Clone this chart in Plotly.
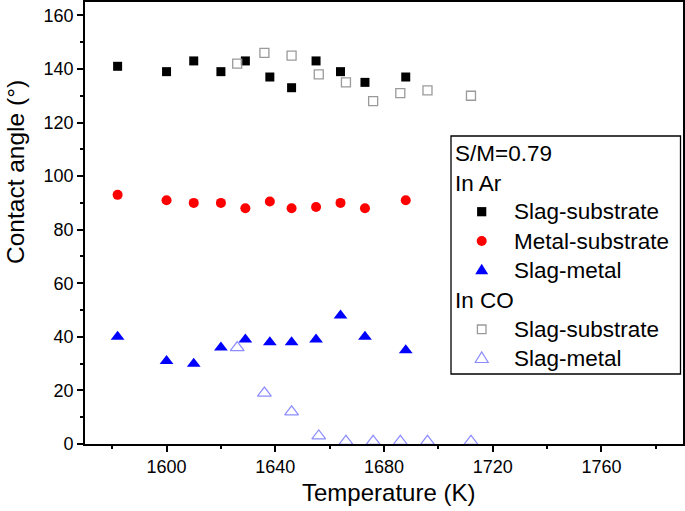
import plotly.graph_objects as go

# ---- data ----
ar_temp = [1582, 1600, 1610, 1620, 1629, 1638, 1646, 1655, 1664, 1673, 1688]
ar_slag_substrate = [141, 139, 143, 139, 143, 137, 133, 143, 139, 135, 137]
ar_metal_substrate = [93, 91, 90, 90, 88, 90.5, 88, 88.5, 90, 88, 91]
ar_slag_metal = [40, 31, 30, 36, 39, 38, 38, 39, 48, 40, 35]

co_temp = [1626, 1636, 1646, 1656, 1666, 1676, 1686, 1696, 1712]
co_slag_substrate = [142, 146, 145, 138, 135, 128, 131, 132, 130]
co_slag_metal = [36, 19, 12, 3, 1, 1, 1, 1, 1]

x_title = "Temperature (K)"
y_title = "Contact angle (°)"
legend_header = "S/M=0.79"
group_ar = "In Ar"
group_co = "In CO"
names_ar = ["Slag-substrate", "Metal-substrate", "Slag-metal"]
names_co = ["Slag-substrate", "Slag-metal"]

FONT = "Liberation Sans, Arial, sans-serif"
W, H = 685, 511
ML, MR, MT, MB = 85, 2, 2, 67
PW, PH = W - ML - MR, H - MT - MB

BLACK = "black"
RED = "#ff0000"
BLUE = "#0000ff"
GRAY = "#9a9a9a"
LBLUE = "#8c8cff"


def px(xpix):
    return (xpix - ML) / PW


def py(ypix):
    return (H - MB - ypix) / PH


fig = go.Figure()
fig.add_trace(go.Scatter(x=ar_temp, y=ar_slag_substrate, mode="markers", name=names_ar[0],
                         marker=dict(symbol="square", size=9, color=BLACK)))
fig.add_trace(go.Scatter(x=ar_temp, y=ar_metal_substrate, mode="markers", name=names_ar[1],
                         marker=dict(symbol="circle", size=10, color=RED)))
fig.add_trace(go.Scatter(x=ar_temp, y=ar_slag_metal, mode="markers", name=names_ar[2],
                         marker=dict(symbol="triangle-up", size=12, color=BLUE)))
fig.add_trace(go.Scatter(x=co_temp, y=co_slag_substrate, mode="markers", name=names_co[0],
                         marker=dict(symbol="square-open", size=9, color=GRAY,
                                     line=dict(width=1.3))))
fig.add_trace(go.Scatter(x=co_temp, y=co_slag_metal, mode="markers", name=names_co[1],
                         marker=dict(symbol="triangle-up-open", size=12, color=LBLUE,
                                     line=dict(width=1.2))))

shapes = []
annotations = []

# legend box
shapes.append(dict(type="rect", xref="paper", yref="paper",
                   x0=px(451), x1=px(680.5), y0=py(374), y1=py(136),
                   line=dict(color="black", width=1.3), fillcolor="white", layer="above"))

LFS = 22.5
def legend_text(text, xpix, ypix):
    annotations.append(dict(text=text, xref="paper", yref="paper", x=px(xpix), y=py(ypix),
                            xanchor="left", yanchor="middle", showarrow=False,
                            font=dict(size=LFS, family=FONT, color="black")))

legend_text(legend_header, 453, 153.5)
legend_text(group_ar, 453, 183)
legend_text(group_co, 453, 300)
item_rows = [211.7, 241, 270, 329.3, 358.3]
item_names = names_ar + names_co
for name, row in zip(item_names, item_rows):
    legend_text(name, 512, row)

MX = 481.7
def pix_shape(kind, ypix, half, color, filled, path=None, lw=1.3):
    d = dict(type=kind, xref="paper", yref="paper", xsizemode="pixel", ysizemode="pixel",
             xanchor=px(MX), yanchor=py(ypix), layer="above",
             line=dict(color=color, width=(0 if filled else lw)),
             fillcolor=(color if filled else "rgba(0,0,0,0)"))
    if path is not None:
        d["path"] = path
    else:
        d.update(x0=-half, x1=half, y0=-half, y1=half)
    shapes.append(d)

tri = "M-6.5,-4.2 L6.5,-4.2 L0,6.3 Z"
pix_shape("rect", item_rows[0], 4.6, BLACK, True)
pix_shape("circle", item_rows[1], 5, RED, True)
pix_shape("path", item_rows[2], 0, BLUE, True, path=tri)
pix_shape("rect", item_rows[3], 4.3, GRAY, False)
pix_shape("path", item_rows[4], 0, LBLUE, False, path=tri, lw=1.2)

# axis titles
annotations.append(dict(text=x_title, xref="paper", yref="paper", x=px(388), y=py(492),
                        xanchor="center", yanchor="middle", showarrow=False,
                        font=dict(size=24, family=FONT, color="black")))
annotations.append(dict(text=y_title, xref="paper", yref="paper", x=px(16), y=py(172),
                        xanchor="center", yanchor="middle", showarrow=False, textangle=-90,
                        font=dict(size=24.5, family=FONT, color="black")))

fig.update_layout(
    width=W, height=H,
    margin=dict(l=ML, r=MR, t=MT, b=MB),
    plot_bgcolor="white", paper_bgcolor="white",
    font=dict(family=FONT, color="black", size=18),
    showlegend=False,
    shapes=shapes,
    annotations=annotations,
    xaxis=dict(
        range=[1570, 1790], showgrid=False, zeroline=False, automargin=False,
        showline=True, linecolor="black", linewidth=1.6, mirror=True,
        ticks="outside", ticklen=6, tickwidth=1.5, tickcolor="black",
        tick0=1600, dtick=40,
        minor=dict(ticks="outside", ticklen=3.5, tickwidth=1.5, dtick=20, tick0=1580, tickcolor="black"),
        tickfont=dict(size=18),
    ),
    yaxis=dict(
        range=[0, 165], showgrid=False, zeroline=False, automargin=False,
        showline=True, linecolor="black", linewidth=1.6, mirror=True,
        ticks="outside", ticklen=6, tickwidth=1.5, tickcolor="black",
        tick0=0, dtick=20,
        minor=dict(ticks="outside", ticklen=3.5, tickwidth=1.5, dtick=10, tickcolor="black"),
        tickfont=dict(size=18),
    ),
)

fig.write_html("out.html", config={"displayModeBar": False},
               post_script="document.body.style.margin='0';document.body.style.padding='0';")
